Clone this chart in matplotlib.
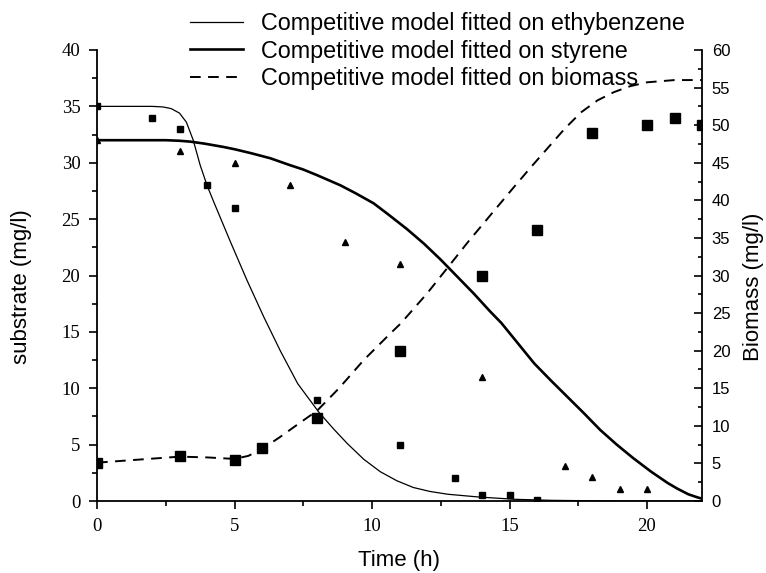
import numpy as np
import matplotlib
matplotlib.use("Agg")
import matplotlib.pyplot as plt
from matplotlib.ticker import MultipleLocator

t_eb = [0, 2, 3, 4, 5, 8, 11, 13, 14, 15, 16]
eb = [35, 34, 33, 28, 26, 9, 5, 2, 0.55, 0.55, 0.1]

t_st = [0, 3, 5, 7, 9, 11, 14, 17, 18, 19, 20]
st = [32, 31, 30, 28, 23, 21, 11, 3.1, 2.1, 1.1, 1.1]

t_bm = [0, 3, 5, 6, 8, 11, 14, 16, 18, 20, 21, 22]
bm = [5.1, 6.0, 5.5, 7.0, 11.0, 20, 30, 36, 49, 50, 51, 50]

# model curves
tm_eb = [0, 1, 2, 2.4, 2.7, 3.0, 3.25, 3.5, 3.75, 4.0, 4.25, 4.85, 5.45, 6.06,
         6.67, 7.3, 8.06, 8.6, 9.1, 9.7, 10.3, 10.9, 11.5, 12.1, 12.75, 13.9,
         15.2, 16.5, 18, 20, 22]
ym_eb = [35, 35, 35, 34.95, 34.8, 34.4, 33.6, 32.0, 29.8, 28.0, 26.5, 23.0, 19.6,
         16.35, 13.3, 10.4, 7.9, 6.4, 5.1, 3.7, 2.6, 1.8, 1.2, 0.85, 0.6, 0.35,
         0.15, 0.06, 0.02, 0, 0]

tm_st = [0, 1, 2.0, 2.5, 3.0, 3.4, 3.9, 4.6, 5.0, 5.6, 6.3, 7.0, 7.5, 8.0, 8.85,
         9.4, 10.06, 10.6, 11.28, 11.9, 12.5, 13.1, 13.7, 14.3, 14.7, 15.3, 15.9,
         16.5, 17.1, 17.7, 18.3, 18.9, 19.5, 20.15, 20.75, 21.1, 21.5, 21.8, 22]
ym_st = [32, 32, 32, 32, 31.95, 31.87, 31.7, 31.4, 31.2, 30.85, 30.4, 29.8, 29.4,
         28.9, 28.0, 27.3, 26.4, 25.4, 24.1, 22.8, 21.4, 19.9, 18.4, 16.8, 15.8,
         14.0, 12.2, 10.7, 9.25, 7.8, 6.3, 5.0, 3.8, 2.6, 1.6, 1.1, 0.6, 0.35, 0.2]

tm_bm = [0, 1.5, 3, 4, 5, 5.5, 6, 6.67, 7.3, 8, 8.8, 9.7, 10.67, 11.04, 12.0,
         12.74, 13.5, 14.3, 15.17, 15.8, 16.4, 17.0, 17.6, 18.2, 18.8, 19.4,
         20.0, 21.0, 22]
ym_bm = [5.1, 5.5, 5.9, 5.8, 5.6, 6.0, 6.9, 8.55, 10.2, 12.0, 15.0, 18.75, 22.3,
         23.6, 27.6, 31.0, 34.5, 38.0, 41.8, 44.5, 47.0, 49.5, 51.7, 53.3, 54.4,
         55.2, 55.7, 56.0, 56]

serif = "Liberation Serif"
sans = "Liberation Sans"

fig = plt.figure(figsize=(7.66, 5.73), dpi=100)
ax = fig.add_axes([97 / 766, 1 - 501 / 573, 605 / 766, 451 / 573])
ax2 = ax.twinx()

l1, = ax.plot(tm_eb, ym_eb, color="black", lw=0.9)
l2, = ax.plot(tm_st, ym_st, color="black", lw=1.9)
l3, = ax2.plot(tm_bm, ym_bm, color="black", lw=1.4, linestyle=(0, (5.5, 3.8)))

ax.plot(t_eb, eb, "s", color="black", markersize=4.2)
ax.plot(t_st, st, "^", color="black", markersize=5)
ax2.plot(t_bm, bm, "s", color="black", markersize=7.5)

ax.set_xlim(0, 22)
ax.set_ylim(0, 40)
ax2.set_ylim(0, 60)

ax.xaxis.set_major_locator(MultipleLocator(5))
ax.xaxis.set_minor_locator(MultipleLocator(2.5))
ax.yaxis.set_major_locator(MultipleLocator(5))
ax.yaxis.set_minor_locator(MultipleLocator(2.5))
ax2.yaxis.set_major_locator(MultipleLocator(5))
ax2.yaxis.set_minor_locator(MultipleLocator(2.5))

for a in (ax, ax2):
    a.spines["top"].set_visible(False)
    for s in a.spines.values():
        s.set_linewidth(1.3)
ax.spines["right"].set_visible(False)
ax2.spines["left"].set_visible(False)
ax2.spines["bottom"].set_visible(False)

ax.tick_params(axis="both", which="major", direction="out", length=6, width=1.2, pad=6)
ax.tick_params(axis="both", which="minor", direction="out", length=3.5, width=1.2)
ax2.tick_params(axis="y", which="major", direction="in", length=6, width=1.2, pad=7)
ax2.tick_params(axis="y", which="minor", direction="in", length=3, width=1.2)

for lab in ax.get_xticklabels() + ax.get_yticklabels():
    lab.set_fontfamily(serif)
    lab.set_fontsize(13.5)
for lab in ax2.get_yticklabels():
    lab.set_fontfamily(sans)
    lab.set_fontsize(12)

ax.set_xlabel("Time (h)", fontfamily=sans, fontsize=16)
ax.set_ylabel("substrate (mg/l)", fontfamily=sans, fontsize=16)
ax2.set_ylabel("Biomass (mg/l)", fontfamily=sans, fontsize=16)
ax.xaxis.set_label_coords(0.5, -0.108)
ax.yaxis.set_label_coords(-0.107, 0.475)
ax2.yaxis.set_label_coords(1.068, 0.475)

fig.legend([l1, l2, l3],
           ["Competitive model fitted on ethybenzene",
            "Competitive model fitted on styrene",
            "Competitive model fitted on biomass"],
           loc="upper left", bbox_to_anchor=(190 / 766, 1 - 12 / 573),
           frameon=False, borderpad=0, borderaxespad=0,
           handlelength=2.25, handletextpad=0.8, labelspacing=0.2,
           prop={"family": sans, "size": 16.8})

fig.savefig("out.png", dpi=100)
